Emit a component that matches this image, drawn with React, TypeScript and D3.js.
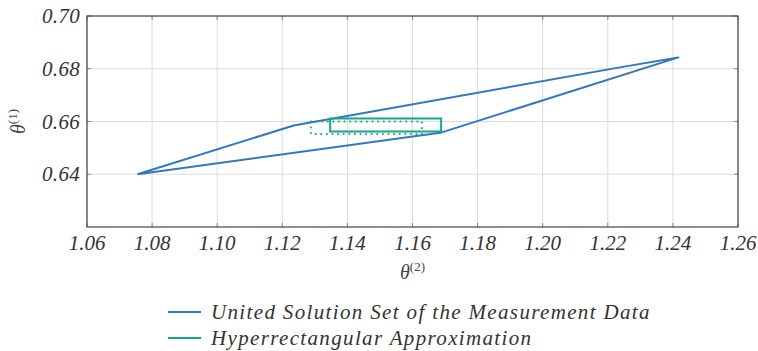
import React from "react";
import * as d3 from "d3";

// united solution set polygon (theta2, theta1)
const setX = [1.0755, 1.1235, 1.225, 1.2417, 1.1685, 1.0755];
const setY = [0.64, 0.6585, 0.6808, 0.6843, 0.6557, 0.64];

// hyperrectangle (solid) and the dotted one
const rectX = [1.1347, 1.1688];
const rectY = [0.6562, 0.6611];
const dotX = [1.1288, 1.1629];
const dotY = [0.6553, 0.66];

const xTicks = [1.06, 1.08, 1.1, 1.12, 1.14, 1.16, 1.18, 1.2, 1.22, 1.24, 1.26];
const yTicks = [0.64, 0.66, 0.68, 0.7];
const legendLabels = ["United Solution Set of the Measurement Data", "Hyperrectangular Approximation"];

const BLUE = "#3477c0";
const GREEN = "#14a68a";
const FONT = "Liberation Serif";

const txt = (size: number, spacing = 0) => ({
  fontFamily: FONT,
  fontStyle: "italic" as const,
  fontSize: size,
  letterSpacing: spacing,
});

export default function App() {
  const width = 758;
  const height = 351;
  const margin = { left: 87, right: 20, top: 16, bottom: 124 };

  const x = d3.scaleLinear().domain([1.06, 1.26]).range([margin.left, width - margin.right]);
  const y = d3.scaleLinear().domain([0.62, 0.7]).range([height - margin.bottom, margin.top]);

  const line = d3.line<number>()
    .x((d, i) => x(setX[i]))
    .y((d, i) => y(setY[i]));

  const rectPath = (xs: number[], ys: number[]) =>
    `M${x(xs[0])},${y(ys[1])}H${x(xs[1])}V${y(ys[0])}H${x(xs[0])}Z`;

  const plotBottom = y(0.62);
  const plotTop = y(0.7);

  return (
    <svg width={width} height={height} style={{ position: "absolute", left: 0, top: 0 }}>
      {/* grid */}
      {xTicks.map((t) => (
        <line key={"gx" + t} x1={x(t)} x2={x(t)} y1={plotTop} y2={plotBottom} stroke="#dcdcdc" strokeWidth={1} />
      ))}
      {yTicks.map((t) => (
        <line key={"gy" + t} x1={x(1.06)} x2={x(1.26)} y1={y(t)} y2={y(t)} stroke="#dcdcdc" strokeWidth={1} />
      ))}
      {/* ticks */}
      {xTicks.map((t) => (
        <g key={"tx" + t}>
          <line x1={x(t)} x2={x(t)} y1={plotBottom} y2={plotBottom - 4} stroke="#888" />
          <line x1={x(t)} x2={x(t)} y1={plotTop} y2={plotTop + 4} stroke="#888" />
          <text x={x(t)} y={plotBottom + 23} textAnchor="middle" style={txt(21)} fill="#333">
            {t.toFixed(2)}
          </text>
        </g>
      ))}
      {yTicks.map((t) => (
        <g key={"ty" + t}>
          <line x1={x(1.06)} x2={x(1.06) + 4} y1={y(t)} y2={y(t)} stroke="#888" />
          <line x1={x(1.26)} x2={x(1.26) - 4} y1={y(t)} y2={y(t)} stroke="#888" />
          <text x={x(1.06) - 7} y={y(t) + 7} textAnchor="end" style={txt(21, 0.3)} fill="#333">
            {t.toFixed(2)}
          </text>
        </g>
      ))}
      {/* frame */}
      <rect x={x(1.06)} y={plotTop} width={x(1.26) - x(1.06)} height={plotBottom - plotTop} fill="none" stroke="#444" strokeWidth={1.2} />

      {/* data */}
      <path d={line(setX) || ""} fill="none" stroke={BLUE} strokeWidth={2} strokeLinejoin="round" />
      <path d={rectPath(dotX, dotY)} fill="none" stroke={GREEN} strokeWidth={2} strokeDasharray="0.1 5.5" strokeLinecap="round" />
      <path d={rectPath(rectX, rectY)} fill="none" stroke={GREEN} strokeWidth={2} />

      {/* axis labels */}
      <text x={(x(1.06) + x(1.26)) / 2} y={279} textAnchor="middle" style={txt(20)} fill="#444">
        θ<tspan style={{ fontSize: 13, fontStyle: "normal" }} dy={-8}>(2)</tspan>
      </text>
      <text transform={`translate(25,${(plotTop + plotBottom) / 2}) rotate(-90)`} textAnchor="middle" style={txt(20)} fill="#444">
        θ<tspan style={{ fontSize: 13, fontStyle: "normal" }} dy={-8}>(1)</tspan>
      </text>

      {/* legend */}
      {legendLabels.map((l, i) => (
        <g key={l} transform={`translate(168,${312 + i * 26})`}>
          <line x1={0} x2={33} y1={0} y2={0} stroke={i === 0 ? BLUE : GREEN} strokeWidth={2} />
          <text x={43} y={7} style={txt(21, 1.35)} fill="#333">{l}</text>
        </g>
      ))}
    </svg>
  );
}
